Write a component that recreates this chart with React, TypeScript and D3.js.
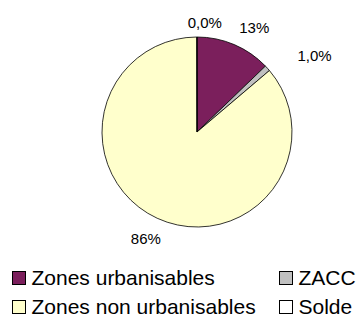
import React from 'react'
import * as d3 from 'd3'

// share of each zone type (%), clockwise from 12 o'clock
const categories = ['Zones urbanisables', 'ZACC', 'Zones non urbanisables', 'Solde']
const values = [12.8, 1.0, 86.16, 0.04]
const valueLabels = ['13%', '1,0%', '86%', '0,0%']
const colors = ['#7B1F5C', '#C0C0C0', '#FFFFCC', '#FFFFFF']

// small hand tweaks so the labels sit where the spreadsheet put them
const labelNudge: [number, number][] = [[3, 0], [22, 1], [6, 4], [25, 3]]

const width = 360
const height = 318
const cx = 197
const cy = 132
const radius = 95
const font = '"Liberation Sans", Arial, sans-serif'

function PieChart() {
  const pie = d3.pie<number>().sort(null).value((d) => d)
  const arcs = pie(values)
  const arc = d3.arc<d3.PieArcDatum<number>>().innerRadius(0).outerRadius(radius)

  const labelR = radius + 11
  const labels = arcs.map((a, i) => {
    const mid = (a.startAngle + a.endAngle) / 2
    const w = valueLabels[i].length * 8.5
    const h = 13
    const ax = Math.sin(mid) * labelR
    const ay = -Math.cos(mid) * labelR
    const x = ax + Math.sign(Math.sin(mid)) * w / 2 + labelNudge[i][0]
    const y = ay - Math.sign(Math.cos(mid)) * h / 2 + labelNudge[i][1]
    return { x, y, text: valueLabels[i] }
  })

  // legend laid out in two columns, two rows
  const colX = d3.scaleOrdinal<number, number>().domain([0, 1]).range([12, 279])
  const rowY = d3.scaleOrdinal<number, number>().domain([0, 1]).range([271, 300])

  return (
    <svg width={width} height={height} style={{ position: 'absolute', left: 0, top: 0, background: '#fff' }}>
      <g transform={`translate(${cx},${cy})`}>
        {arcs.map((a, i) => (
          <path key={i} d={arc(a) || ''} fill={colors[i]} stroke='#000' strokeWidth={0.8} strokeLinejoin='round' />
        ))}
        {labels.map((l, i) => (
          <text key={i} x={l.x} y={l.y} dy='0.35em' textAnchor='middle' fontFamily={font} fontSize={15} fill='#000'>
            {l.text}
          </text>
        ))}
      </g>
      <g>
        {categories.map((c, i) => {
          const col = i % 2
          const row = Math.floor(i / 2)
          const x = colX(col)
          const y = rowY(row)
          return (
            <g key={c} transform={`translate(${x},${y})`}>
              <rect x={0.5} y={0.5} width={13} height={13} fill={colors[i]} stroke='#000' strokeWidth={1} />
              <text x={19.5} y={14} fontFamily={font} fontSize={21} fill='#000'>
                {c}
              </text>
            </g>
          )
        })}
      </g>
    </svg>
  )
}

export default function App() {
  return <PieChart />
}
